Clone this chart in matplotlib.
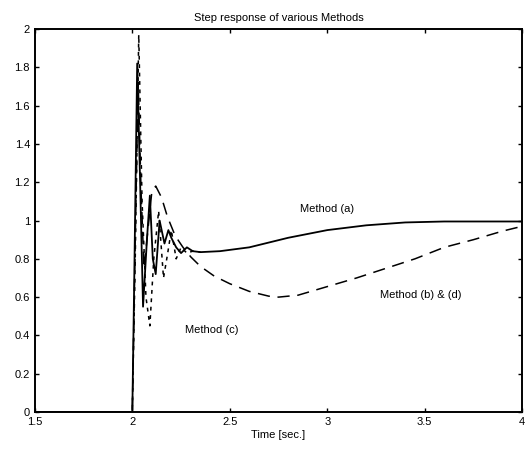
import matplotlib
matplotlib.use('Agg')
import matplotlib.pyplot as plt

plt.rcParams['font.family'] = ['Liberation Sans', 'DejaVu Sans']

# Method (a): solid
t_a = [1.5, 2.0, 2.01, 2.025, 2.04, 2.055, 2.075, 2.09, 2.105, 2.12, 2.14, 2.165, 2.185, 2.2, 2.225,
       2.25, 2.28, 2.31, 2.35, 2.45, 2.6, 2.8, 3.0, 3.2, 3.4, 3.6, 3.8, 4.0]
y_a = [0.0, 0.0, 0.7, 1.82, 1.2, 0.55, 0.9, 1.13, 0.8, 0.72, 1.0, 0.88, 0.95, 0.91, 0.86,
       0.83, 0.86, 0.84, 0.835, 0.84, 0.86, 0.91, 0.95, 0.975, 0.99, 0.995, 0.995, 0.995]

# Method (b) & (d): dashed
t_b = [1.5, 2.0, 2.015, 2.03, 2.045, 2.06, 2.08, 2.1, 2.12, 2.15, 2.18, 2.22, 2.26, 2.3, 2.35,
       2.42, 2.5, 2.6, 2.7, 2.75, 2.85, 3.0, 3.15, 3.3, 3.45, 3.6, 3.75, 3.9, 4.0]
y_b = [0.0, 0.0, 0.9, 1.72, 1.15, 0.75, 0.95, 1.15, 1.18, 1.12, 1.02, 0.92, 0.86, 0.81, 0.76,
       0.71, 0.67, 0.63, 0.605, 0.6, 0.61, 0.655, 0.7, 0.75, 0.8, 0.86, 0.9, 0.945, 0.97]

# Method (c): dotted
t_c = [1.5, 2.0, 2.015, 2.033, 2.05, 2.07, 2.09, 2.11, 2.135, 2.16, 2.18, 2.2, 2.225, 2.25,
       2.28, 2.31, 2.35]
y_c = [0.0, 0.0, 0.8, 1.97, 1.1, 0.6, 0.45, 0.8, 1.05, 0.7, 0.82, 0.95, 0.8, 0.86, 0.83,
       0.84, 0.835]

fig = plt.figure(figsize=(5.28, 4.54), dpi=100)
ax = fig.add_axes([0.066, 0.0925, 0.923, 0.8435])

ax.plot(t_a, y_a, color='black', lw=1.3)
ax.plot(t_b, y_b, color='black', lw=1.1, dashes=(8, 5))
ax.plot(t_c, y_c, color='black', lw=1.1, dashes=(2.5, 3))

ax.text(3.0, 1.06, 'Method (a)', fontsize=8, ha='center', va='center')
ax.text(3.48, 0.61, 'Method (b) & (d)', fontsize=8, ha='center', va='center')
ax.text(2.41, 0.43, 'Method (c)', fontsize=8, ha='center', va='center')

ax.set_xlim(1.5, 4)
ax.set_ylim(0, 2)
ax.set_xticks([1.5, 2, 2.5, 3, 3.5, 4])
ax.set_xticklabels(['1.5', '2', '2.5', '3', '3.5', '4'])
ax.set_yticks([0, 0.2, 0.4, 0.6, 0.8, 1, 1.2, 1.4, 1.6, 1.8, 2])
ax.set_yticklabels(['0', '0.2', '0.4', '0.6', '0.8', '1', '1.2', '1.4', '1.6', '1.8', '2'])
ax.tick_params(direction='in', length=3, labelsize=8, top=True, right=True, width=1)
for s in ax.spines.values():
    s.set_linewidth(1.4)

ax.set_xlabel('Time [sec.]', fontsize=8, labelpad=2)
ax.set_title('Step response of various Methods', fontsize=8, pad=6)

fig.savefig('out.png', dpi=100)
